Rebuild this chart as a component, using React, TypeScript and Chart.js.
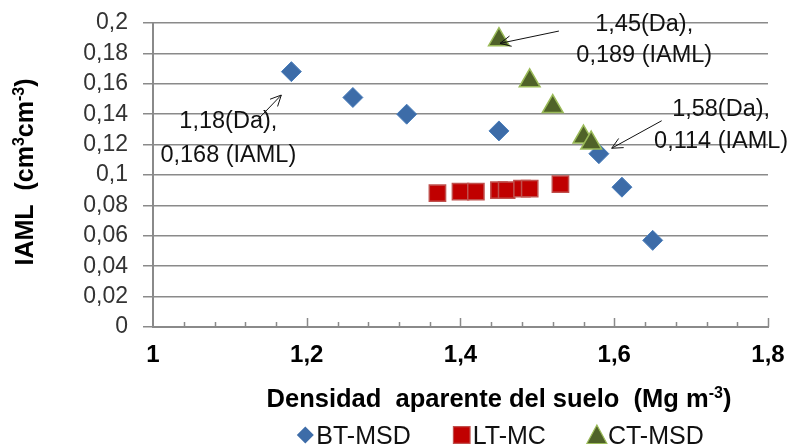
import React, { useEffect, useRef } from 'react';
import { Chart, registerables } from 'chart.js';

Chart.register(...registerables);

// ---- data ----
const btX = [1.18, 1.26, 1.33, 1.45, 1.58, 1.61, 1.65];
const btY = [0.168, 0.151, 0.14, 0.129, 0.114, 0.092, 0.057];
const ltX = [1.37, 1.4, 1.42, 1.45, 1.46, 1.48, 1.49, 1.53];
const ltY = [0.088, 0.089, 0.089, 0.09, 0.09, 0.091, 0.091, 0.094];
const ctX = [1.45, 1.49, 1.52, 1.56, 1.57];
const ctY = [0.189, 0.162, 0.145, 0.125, 0.121];
const seriesNames = ['BT-MSD', 'LT-MC', 'CT-MSD'];
const xMin = 1;
const xMax = 1.8;
const xStep = 0.2;
const xMinorStep = 0.04;
const yMin = 0;
const yMax = 0.2;
const yStep = 0.02;
const noteText = [
  ['1,18(Da),', '0,168 (IAML)'],
  ['1,45(Da),', '0,189 (IAML)'],
  ['1,58(Da),', '0,114 (IAML)'],
];

const FONT = '"Liberation Sans", Arial, sans-serif';
const GRID = '#8a8a8a';

// annotation placement in data units
const notes = [
  { lines: noteText[0], x: 1.098, y1: 0.1349, y2: 0.1125, tail: [1.1365, 0.1366], head: [1.1669, 0.1526] },
  { lines: noteText[1], x: 1.639, y1: 0.1993, y2: 0.1783, tail: [1.528, 0.1947], head: [1.4514, 0.1866] },
  { lines: noteText[2], x: 1.739, y1: 0.1434, y2: 0.122, tail: [1.6617, 0.1357], head: [1.5967, 0.1176] },
];

const fmt = (v: number, d: number) => {
  const n = Number(v.toFixed(d));
  return String(n).replace('.', ',');
};

type Seg = { t: string; sup?: boolean };

function drawRich(ctx: CanvasRenderingContext2D, segs: Seg[], x: number, y: number, size: number, weight: string) {
  const supSize = Math.round(size * 0.62);
  const widths = segs.map((s) => {
    ctx.font = `${weight} ${s.sup ? supSize : size}px ${FONT}`;
    return ctx.measureText(s.t).width;
  });
  const total = widths.reduce((a, b) => a + b, 0);
  let cx = x - total / 2;
  ctx.textAlign = 'left';
  ctx.textBaseline = 'alphabetic';
  segs.forEach((s, i) => {
    ctx.font = `${weight} ${s.sup ? supSize : size}px ${FONT}`;
    ctx.fillText(s.t, cx, s.sup ? y - size * 0.36 : y);
    cx += widths[i];
  });
}

function drawArrow(ctx: CanvasRenderingContext2D, x1: number, y1: number, x2: number, y2: number) {
  const ang = Math.atan2(y2 - y1, x2 - x1);
  const len = 12;
  const spread = 0.45;
  ctx.beginPath();
  ctx.moveTo(x1, y1);
  ctx.lineTo(x2, y2);
  ctx.moveTo(x2 - len * Math.cos(ang - spread), y2 - len * Math.sin(ang - spread));
  ctx.lineTo(x2, y2);
  ctx.lineTo(x2 - len * Math.cos(ang + spread), y2 - len * Math.sin(ang + spread));
  ctx.stroke();
}

const decorPlugin = {
  id: 'decor',
  beforeDatasetsDraw(chart: any) {
    const { ctx, chartArea, scales } = chart;
    const xs = scales.x;
    ctx.save();
    ctx.strokeStyle = GRID;
    ctx.lineWidth = 1.5;
    const n = Math.round((xMax - xMin) / xMinorStep);
    for (let i = 1; i <= n; i++) {
      const v = xMin + i * xMinorStep;
      const px = Math.round(xs.getPixelForValue(v)) + 0.5;
      const major = i % Math.round(xStep / xMinorStep) === 0;
      ctx.beginPath();
      ctx.moveTo(px, chartArea.bottom);
      ctx.lineTo(px, chartArea.bottom - (major ? 9 : 5));
      ctx.stroke();
    }
    ctx.restore();
  },
  afterDraw(chart: any) {
    const { ctx, chartArea, scales } = chart;
    const xs = scales.x;
    const ys = scales.y;
    ctx.save();

    // annotations
    ctx.fillStyle = '#111';
    ctx.strokeStyle = '#111';
    ctx.lineWidth = 1;
    ctx.font = `23.5px ${FONT}`;
    ctx.textAlign = 'center';
    ctx.textBaseline = 'middle';
    notes.forEach((nt) => {
      const px = xs.getPixelForValue(nt.x);
      ctx.fillText(nt.lines[0], px, ys.getPixelForValue(nt.y1));
      ctx.fillText(nt.lines[1], px, ys.getPixelForValue(nt.y2));
      drawArrow(
        ctx,
        xs.getPixelForValue(nt.tail[0]),
        ys.getPixelForValue(nt.tail[1]),
        xs.getPixelForValue(nt.head[0]),
        ys.getPixelForValue(nt.head[1])
      );
    });

    // y axis title
    ctx.fillStyle = '#000';
    ctx.save();
    ctx.translate(33, (chartArea.top + chartArea.bottom) / 2 - 3);
    ctx.rotate(-Math.PI / 2);
    drawRich(ctx, [{ t: 'IAML  (cm' }, { t: '3', sup: true }, { t: 'cm' }, { t: '-3', sup: true }, { t: ')' }], 0, 0, 25, 'bold');
    ctx.restore();

    // x axis title
    drawRich(
      ctx,
      [{ t: 'Densidad  aparente del suelo  (Mg m' }, { t: '-3', sup: true }, { t: ')' }],
      499,
      407,
      25.5,
      'bold'
    );

    // legend
    const lgSize = 25;
    ctx.font = `${lgSize}px ${FONT}`;
    const symW = 18;
    const gap = 2;
    const itemGap = 42;
    const widths = seriesNames.map((s) => ctx.measureText(s).width);
    const total = widths.reduce((a, b) => a + b, 0) + seriesNames.length * (symW + gap) + itemGap * (seriesNames.length - 1);
    let lx = 500 - total / 2;
    const ly = 435;
    seriesNames.forEach((name, i) => {
      const cx = lx + symW / 2;
      ctx.beginPath();
      if (i === 0) {
        ctx.fillStyle = '#3d6ca8';
        ctx.moveTo(cx, ly - 8.5);
        ctx.lineTo(cx + 8.5, ly);
        ctx.lineTo(cx, ly + 8.5);
        ctx.lineTo(cx - 8.5, ly);
      } else if (i === 1) {
        ctx.fillStyle = '#c00000';
        ctx.rect(cx - 8.3, ly - 8.3, 16.6, 16.6);
      } else {
        ctx.fillStyle = '#4f6228';
        ctx.moveTo(cx, ly - 10);
        ctx.lineTo(cx + 10, ly + 8.5);
        ctx.lineTo(cx - 10, ly + 8.5);
      }
      ctx.closePath();
      ctx.fill();
      if (i === 1) {
        ctx.strokeStyle = '#c0504d';
        ctx.lineWidth = 1.2;
        ctx.stroke();
      } else if (i === 2) {
        ctx.strokeStyle = '#9bbb59';
        ctx.lineWidth = 1.2;
        ctx.stroke();
      }
      ctx.fillStyle = '#111';
      ctx.font = `${lgSize}px ${FONT}`;
      ctx.textAlign = 'left';
      ctx.textBaseline = 'alphabetic';
      ctx.fillText(name, lx + symW + gap, ly + 8.5);
      lx += symW + gap + widths[i] + itemGap;
    });

    ctx.restore();
  },
};

export default function App() {
  const ref = useRef<HTMLCanvasElement | null>(null);

  useEffect(() => {
    if (!ref.current) return;
    const toPts = (xs: number[], ys: number[]) => xs.map((x, i) => ({ x, y: ys[i] }));
    const chart = new Chart(ref.current, {
      type: 'scatter',
      data: {
        datasets: [
          {
            label: seriesNames[0],
            data: toPts(btX, btY),
            pointStyle: 'rectRot',
            pointRadius: 10,
            backgroundColor: '#3d6ca8',
            borderColor: '#4a7ebb',
            borderWidth: 1,
            order: 3,
          },
          {
            label: seriesNames[1],
            data: toPts(ltX, ltY),
            pointStyle: 'rect',
            pointRadius: 11.5,
            backgroundColor: '#c00000',
            borderColor: '#c0504d',
            borderWidth: 1.5,
            order: 2,
          },
          {
            label: seriesNames[2],
            data: toPts(ctX, ctY),
            pointStyle: 'triangle',
            pointRadius: 12,
            backgroundColor: '#4f6228',
            borderColor: '#9bbb59',
            borderWidth: 1.5,
            order: 1,
          },
        ],
      },
      options: {
        responsive: false,
        animation: false,
        events: [],
        layout: { padding: { top: 23, right: 26, bottom: 67, left: 0 } },
        plugins: {
          legend: { display: false },
          tooltip: { enabled: false },
          title: { display: false },
        },
        scales: {
          x: {
            type: 'linear',
            min: xMin,
            max: xMax,
            ticks: {
              stepSize: xStep,
              autoSkip: false,
              maxRotation: 0,
              padding: 14,
              color: '#000',
              font: { family: FONT, size: 24, weight: 'bold' },
              callback: (v: any) => fmt(Number(v), 1),
            },
            grid: { display: true, drawOnChartArea: false, drawTicks: false, color: GRID },
            border: { display: true, color: GRID, width: 2 },
            afterFit: (s: any) => {
              s.height = 50;
              s.paddingLeft = 0;
              s.paddingRight = 0;
            },
          },
          y: {
            min: yMin,
            max: yMax,
            ticks: {
              stepSize: yStep,
              autoSkip: false,
              padding: 15,
              color: '#333',
              font: { family: FONT, size: 23 },
              callback: (v: any) => fmt(Number(v), 2),
            },
            grid: { color: GRID, lineWidth: 1.5, tickLength: 10 },
            border: { display: true, color: GRID, width: 2 },
            afterFit: (s: any) => {
              s.width = 153;
              s.paddingTop = 0;
              s.paddingBottom = 0;
            },
          },
        },
      },
      plugins: [decorPlugin],
    });
    return () => chart.destroy();
  }, []);

  return (
    <div style={{ position: 'absolute', left: 0, top: 0, width: 794, height: 444, background: '#fff' }}>
      <canvas ref={ref} width={794} height={444} style={{ display: 'block', width: 794, height: 444 }} />
    </div>
  );
}
